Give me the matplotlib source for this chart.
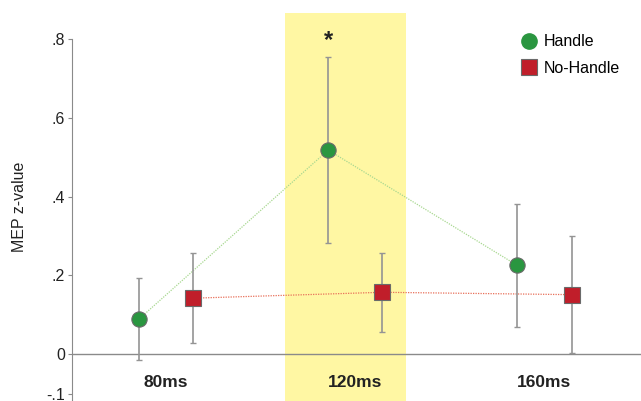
import matplotlib
matplotlib.use("Agg")
import matplotlib.pyplot as plt
from matplotlib.lines import Line2D

plt.rcParams['font.family'] = ['Liberation Sans', 'DejaVu Sans']

categories = ["80ms", "120ms", "160ms"]
handle_mean = [0.089, 0.518, 0.225]
handle_err = [0.105, 0.236, 0.156]
nohandle_mean = [0.142, 0.157, 0.151]
nohandle_err = [0.115, 0.100, 0.149]
yticks = [-0.1, 0, 0.2, 0.4, 0.6, 0.8]
ytick_labels = ["-.1", "0", ".2", ".4", ".6", ".8"]

green = "#2a9640"
red = "#c01e2a"
grey = "#8a8a8a"

fig = plt.figure(figsize=(6.41, 4.01), dpi=100)
ax = fig.add_axes([72/641, 0, 1 - 72/641, 1 - 13/401])
ax.set_xlim(-0.497, 2.51)
ax.set_ylim(-0.119, 0.866)

off = 0.143
xs = list(range(len(categories)))
xh = [x - off for x in xs]
xn = [x + off for x in xs]

# highlight band
ax.axvspan(0.629, 1.268, color="#fff7a3", zorder=0, lw=0)

ax.axhline(0, color=grey, lw=1, zorder=1)

ax.plot(xh, handle_mean, ls=(0, (1, 1)), color="#a8d890", lw=0.9, zorder=2)
ax.plot(xn, nohandle_mean, ls=(0, (1, 1)), color="#e8705a", lw=0.9, zorder=2)

ax.errorbar(xh, handle_mean, yerr=handle_err, fmt='none', ecolor="#949494", elinewidth=1.2,
            capsize=2, capthick=1, zorder=3)
ax.errorbar(xn, nohandle_mean, yerr=nohandle_err, fmt='none', ecolor="#949494", elinewidth=1.2,
            capsize=2, capthick=1, zorder=3)
ax.plot(xh, handle_mean, 'o', ms=11, mfc=green, mec="#6a6a6a", mew=0.8, ls='none', zorder=4)
ax.plot(xn, nohandle_mean, 's', ms=11.5, mfc=red, mec="#6a6a6a", mew=0.8, ls='none', zorder=4)

# significance
ax.text(xh[1], 0.795, "*", ha='center', va='center', fontsize=17, fontweight='bold', color='#222222')

for x, c in zip(xs, categories):
    ax.text(x, -0.071, c, ha='center', va='center', fontsize=12.5, fontweight='bold', color='#222222')

for s in ['top', 'right', 'bottom']:
    ax.spines[s].set_visible(False)
ax.spines['left'].set_color(grey)
ax.spines['left'].set_bounds(-0.119, 0.8)
ax.set_xticks([])
ax.set_yticks(yticks)
ax.set_yticklabels(ytick_labels, fontsize=11.5, color='#222222')
ax.tick_params(axis='y', length=3, color=grey, pad=2)
ax.set_ylabel("MEP z-value", fontsize=11.5, color='#222222', labelpad=14)

handles = [
    Line2D([], [], marker='o', ls='none', ms=11, mfc=green, mec=green),
    Line2D([], [], marker='s', ls='none', ms=12, mfc=red, mec="#6a6a6a", mew=0.8),
]
leg = ax.legend(handles, ["Handle", "No-Handle"], loc='upper left',
                bbox_to_anchor=((505 - 72) / 569, 0.982),
                frameon=False, fontsize=11.5, handletextpad=0.3, labelspacing=0.72, handlelength=1.2)

fig.savefig("out.png", dpi=100)
